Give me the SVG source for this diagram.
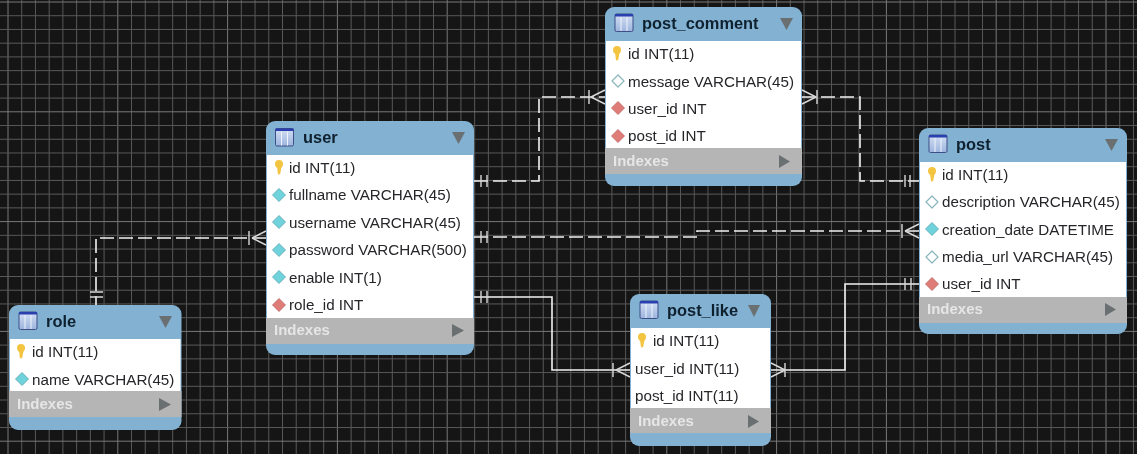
<svg xmlns="http://www.w3.org/2000/svg" width="1137" height="454" viewBox="0 0 1137 454">
<style>
text{font-family:"Liberation Sans",Arial,sans-serif}
.row{font-size:15.2px;fill:#26262a}
.title{font-size:16.4px;font-weight:bold;fill:#10202f}
.idx{font-size:15px;font-weight:bold;fill:#e6e6e6}
.hd{fill:#82b1d2}
.gy{fill:#b5b5b5}
.wh{fill:#fff}
.arr{fill:#6b6f72}
.c{fill:none;stroke:#f2f2f2;stroke-width:1.6}
.d{stroke-dasharray:14 5}
.m{fill:none;stroke:#d8d8d8;stroke-width:1.4}
.gmin{fill:none;stroke:#585858;stroke-width:1}
.gmaj{fill:none;stroke:#787878;stroke-width:1}
</style>
<defs>
<filter id="soft" x="-2%" y="-2%" width="104%" height="104%"><feGaussianBlur stdDeviation="0.45"/></filter>
<g id="vb"><path class="gmaj" d="M0 0V454"/><path class="gmin" d="M13.725 0V454M27.45 0V454M41.175 0V454M54.9 0V454M68.625 0V454M82.35 0V454M96.075 0V454"/></g>
<g id="hb"><path class="gmaj" d="M0 0H1137"/><path class="gmin" d="M0 13.725H1137M0 27.45H1137M0 41.175H1137M0 54.9H1137M0 68.625H1137M0 82.35H1137M0 96.075H1137"/></g>
<linearGradient id="tg" x1="0" y1="0" x2="0" y2="1"><stop offset="0" stop-color="#d3e0f3"/><stop offset="1" stop-color="#9db4de"/></linearGradient>
<g id="tbl"><rect x="0" y="0" width="18" height="17.500" rx="1.500" fill="url(#tg)" stroke="#3d4f86" stroke-width="1"/><rect x="0" y="0" width="18" height="2.500" fill="#2c3fae"/><path d="M6 3V17M12 3V17" stroke="#eef3fb" stroke-width="1" fill="none"/></g>
<g id="key"><path d="M-4-3a4 4 0 0 1 8 0c0 2-1 3-1.700 4L1.200 7-1 7.500-1.800 1C-3 0-4-1-4-3Z" fill="#f3c440"/></g>
<path id="dc" d="M0-6.500 6.500 0 0 6.500-6.500 0Z" fill="#6fd3dc" stroke="#58a3b0" stroke-width=".8" stroke-linejoin="round"/>
<path id="dh" d="M0-6 6 0 0 6-6 0Z" fill="#fff" stroke="#8bb5bc" stroke-width="1.200" stroke-linejoin="round"/>
<path id="dr" d="M0-6.500 6.500 0 0 6.500-6.500 0Z" fill="#e07b78" stroke="#b96462" stroke-width=".8" stroke-linejoin="round"/>
</defs>

<rect width="1137" height="454" fill="#151515"/>
<g id="grid" filter="url(#soft)">
<use href="#vb" x="8"/><use href="#vb" x="117.8"/><use href="#vb" x="227.6"/><use href="#vb" x="337.4"/><use href="#vb" x="447.2"/><use href="#vb" x="557"/><use href="#vb" x="666.8"/><use href="#vb" x="776.6"/><use href="#vb" x="886.4"/><use href="#vb" x="996.2"/><use href="#vb" x="1106"/>
<use href="#hb" y="2"/><use href="#hb" y="111.8"/><use href="#hb" y="221.6"/><use href="#hb" y="331.4"/><use href="#hb" y="441.2"/>
</g>

<g id="connectors" filter="url(#soft)">
<path class="c d" d="M474 181H539V97H605"/>
<path class="c d" d="M802 97H860V181H919"/>
<path class="c d" d="M266 238H96V305"/>
<path class="c d" d="M474 237H697V231H919"/>
<path class="c" d="M474 297H552V370H630"/>
<path class="c" d="M771 370H845V284H919"/>
<path class="m" d="M481 175V187M487 175V187M589 90V104M591 97 605 90M591 97 605 104"/>
<path class="m" d="M816 97 802 90M816 97 802 104M817 90V104M905 175V187M910 175V187"/>
<path class="m" d="M249 231V245M252 238 266 231M252 238 266 245M90 292H103M90 297H103"/>
<path class="m" d="M481 231V243M487 231V243M902 224V238M905 231 919 224M905 231 919 238"/>
<path class="m" d="M481 291V303M487 291V303M613 363V377M616 370 630 363M616 370 630 377"/>
<path class="m" d="M785 370 771 363M785 370 771 377M785 363V377M905 278V290M911 278V290"/>
</g>

<g id="role" filter="url(#soft)">
<rect class="hd" x="9" y="305" width="172.500" height="125" rx="9"/>
<rect class="wh" x="10" y="339" width="170.500" height="52"/>
<rect class="gy" x="9" y="391" width="172.500" height="26"/>
<use href="#tbl" x="19" y="312"/>
<text class="title" x="46" y="327">role</text>
<path class="arr" d="M159 316H172L165.500 328Z"/>
<use href="#key" x="21" y="351"/>
<text class="row" x="32" y="357">id INT(11)</text>
<use href="#dc" x="22" y="379"/>
<text class="row" x="32" y="385">name VARCHAR(45)</text>
<text class="idx" x="17" y="409">Indexes</text>
<path class="arr" d="M159 398 171 404.500 159 411Z"/>
</g>

<g id="user" filter="url(#soft)">
<rect class="hd" x="266" y="121" width="208" height="234" rx="9"/>
<rect class="wh" x="267" y="155" width="206" height="163"/>
<rect class="gy" x="266" y="318" width="208" height="26"/>
<use href="#tbl" x="275.500" y="128.500"/>
<text class="title" x="303" y="143">user</text>
<path class="arr" d="M452 132H465L458.500 144Z"/>
<use href="#key" x="279" y="167"/>
<text class="row" x="289" y="173">id INT(11)</text>
<use href="#dc" x="279" y="195"/>
<text class="row" x="289" y="200">fullname VARCHAR(45)</text>
<use href="#dc" x="279" y="222"/>
<text class="row" x="289" y="228">username VARCHAR(45)</text>
<use href="#dc" x="279" y="250"/>
<text class="row" x="289" y="255">password VARCHAR(500)</text>
<use href="#dc" x="279" y="277"/>
<text class="row" x="289" y="283">enable INT(1)</text>
<use href="#dr" x="279" y="305"/>
<text class="row" x="289" y="310">role_id INT</text>
<text class="idx" x="274" y="335">Indexes</text>
<path class="arr" d="M452 324 464 330.500 452 337Z"/>
</g>

<g id="post_comment" filter="url(#soft)">
<rect class="hd" x="605" y="7" width="197" height="179" rx="9"/>
<rect class="wh" x="606" y="41" width="195" height="107"/>
<rect class="gy" x="605" y="148" width="197" height="26"/>
<use href="#tbl" x="615" y="14"/>
<text class="title" x="642" y="29">post_comment</text>
<path class="arr" d="M780 18H793L786.500 30Z"/>
<use href="#key" x="617" y="53"/>
<text class="row" x="628" y="59">id INT(11)</text>
<use href="#dh" x="618" y="81"/>
<text class="row" x="628" y="87">message VARCHAR(45)</text>
<use href="#dr" x="618" y="108"/>
<text class="row" x="628" y="114">user_id INT</text>
<use href="#dr" x="618" y="136"/>
<text class="row" x="628" y="141">post_id INT</text>
<text class="idx" x="613" y="166">Indexes</text>
<path class="arr" d="M779 155 790 161.500 779 168Z"/>
</g>

<g id="post" filter="url(#soft)">
<rect class="hd" x="919" y="128" width="208" height="206" rx="9"/>
<rect class="wh" x="920" y="162" width="206" height="135"/>
<rect class="gy" x="919" y="297" width="208" height="26"/>
<use href="#tbl" x="929" y="135"/>
<text class="title" x="956" y="150">post</text>
<path class="arr" d="M1105 139H1118L1111.500 151Z"/>
<use href="#key" x="932" y="174"/>
<text class="row" x="942" y="180">id INT(11)</text>
<use href="#dh" x="932" y="202"/>
<text class="row" x="942" y="207">description VARCHAR(45)</text>
<use href="#dc" x="932" y="229"/>
<text class="row" x="942" y="235">creation_date DATETIME</text>
<use href="#dh" x="932" y="257"/>
<text class="row" x="942" y="262">media_url VARCHAR(45)</text>
<use href="#dr" x="932" y="284"/>
<text class="row" x="942" y="289">user_id INT</text>
<text class="idx" x="927" y="314">Indexes</text>
<path class="arr" d="M1105 303 1116 309.500 1105 316Z"/>
</g>

<g id="post_like" filter="url(#soft)">
<rect class="hd" x="630" y="294" width="141" height="152" rx="9"/>
<rect class="wh" x="631" y="328" width="139" height="80"/>
<rect class="gy" x="630" y="408" width="141" height="25"/>
<use href="#tbl" x="640" y="301"/>
<text class="title" x="667" y="316">post_like</text>
<path class="arr" d="M748 305H760L754 317Z"/>
<use href="#key" x="642" y="340"/>
<text class="row" x="653" y="346">id INT(11)</text>
<text class="row" x="635" y="374">user_id INT(11)</text>
<text class="row" x="635" y="401">post_id INT(11)</text>
<text class="idx" x="638" y="426">Indexes</text>
<path class="arr" d="M748 415 759 421.500 748 428Z"/>
</g>
</svg>
